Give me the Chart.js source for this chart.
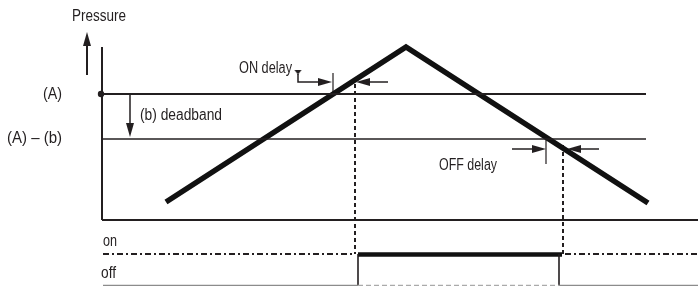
<!DOCTYPE html>
<html><head><meta charset="utf-8">
<script src="https://cdn.jsdelivr.net/npm/chart.js@4"></script>
<style>html,body{margin:0;padding:0;background:#fff;}canvas{display:block;}</style>
</head><body>
<canvas id="c" width="698" height="286"></canvas>
<script>
// ---- diagram values (x = time axis units, y = level units, top-down) ----
const axisTime = [102, 102, 698];
const axisLevel = [47, 220, 220];
const setpointA = 94;            // level (A)
const setpointAminusB = 139;     // level (A) - (b)
const setpointTimes = [102, 646];
const pressureTime = [166, 406, 648];
const pressureLevel = [202, 47, 203];
const onCrossTime = 333;    // curve reaches (A)
const onSwitchTime = 355;   // output switches on
const offCrossTime = 546;   // curve falls to (A)-(b)
const offSwitchTime = 563;  // output switches off
const onTickLevels = [73, 94];
const offTickLevels = [139, 164];
const onArrowLevel = 82;
const offArrowLevel = 149;
const stateOnLevel = 254;
const stateOffLevel = 285.5;
const stateTimes = [103, 358, 559, 698];
const labelTexts = ['Pressure', '(A)', '(A) \u2013 (b)', '(b) deadband', 'ON delay', 'OFF delay', 'on', 'off'];
const labelTime = [72, 62, 62, 140, 239, 439, 103, 101];
const labelLevel = [21, 99, 143, 120, 73, 170, 246, 278];
const labelWidth = [54, 19, 55, 82, 53, 58, 14, 15];
const labelAlign = ['left', 'right', 'right', 'left', 'left', 'left', 'left', 'left'];

const INK = '#231f20';
const GREY = '#8c8c8c';

function pts(xs, ys) { return xs.map((x, i) => ({x, y: ys[i]})); }
function seg(xs, ys, color, width, dash) {
  return {data: pts(xs, ys), showLine: true, borderColor: color, borderWidth: width,
          borderDash: dash || [], pointRadius: 0, fill: false, clip: false, tension: 0};
}
function makeHead(w, h) {
  const c = document.createElement('canvas');
  c.width = w; c.height = h;
  const g = c.getContext('2d');
  g.fillStyle = INK;
  g.beginPath(); g.moveTo(w / 2, 0); g.lineTo(w, h); g.lineTo(0, h); g.closePath(); g.fill();
  return c;
}
const headBig = makeHead(8, 14);
const headSmall = makeHead(8, 5);
function head(x, y, rot, img) {
  return {data: [{x, y}], showLine: false, pointStyle: img || headBig, pointRotation: rot,
          pointRadius: 5, clip: false};
}

const datasets = [
  seg(axisTime.slice(0, 2), axisLevel.slice(0, 2), INK, 2),
  seg(axisTime.slice(1), axisLevel.slice(1), INK, 2),
  seg(setpointTimes, [setpointA, setpointA], INK, 2),
  seg(setpointTimes, [setpointAminusB, setpointAminusB], INK, 1.6),
  seg(pressureTime, pressureLevel, '#111', 5.5),
  seg([onCrossTime, onCrossTime], onTickLevels, INK, 1.2),
  seg([offCrossTime, offCrossTime], offTickLevels, INK, 1.2),
  seg([onSwitchTime, onSwitchTime], [84, stateOnLevel], INK, 2, [4, 3]),
  seg([offSwitchTime, offSwitchTime], [145, stateOnLevel], INK, 2, [4, 3]),
  // ON delay arrows
  seg([298, 298, 322], [74, onArrowLevel, onArrowLevel], INK, 1.5),
  head(298, 72, 180, headSmall),
  head(325, onArrowLevel, 90),
  seg([388, 366], [onArrowLevel, onArrowLevel], INK, 1.5),
  head(363, onArrowLevel, 270),
  // OFF delay arrows
  seg([512, 535], [offArrowLevel, offArrowLevel], INK, 1.5),
  head(539, offArrowLevel, 90),
  seg([599, 577], [offArrowLevel, offArrowLevel], INK, 1.5),
  head(574, offArrowLevel, 270),
  // Pressure arrow & deadband arrow
  seg([87, 87], [75, 40], INK, 2),
  head(87, 39, 0),
  seg([130, 130], [95, 128], INK, 1.5),
  head(130, 130, 180),
  // setpoint dot
  {data: [{x: 101, y: setpointA}], showLine: false, pointStyle: 'circle', pointRadius: 3.2,
   backgroundColor: INK, borderColor: INK, borderWidth: 0, clip: false},
  // output state lines
  seg([stateTimes[0], onSwitchTime], [stateOnLevel, stateOnLevel], INK, 1.8, [6, 3, 2, 3]),
  seg([offSwitchTime + 2, stateTimes[3]], [stateOnLevel, stateOnLevel], INK, 1.8, [6, 3, 2, 3]),
  seg([stateTimes[0], stateTimes[1]], [stateOffLevel, stateOffLevel], GREY, 1.5),
  seg([stateTimes[1], stateTimes[2]], [stateOffLevel, stateOffLevel], '#aaa', 1.5, [5, 3]),
  seg([stateTimes[2], stateTimes[3]], [stateOffLevel, stateOffLevel], GREY, 1.5),
  seg([stateTimes[1], stateTimes[1]], [stateOnLevel, 286], INK, 1.6),
  seg([stateTimes[2], stateTimes[2]], [stateOnLevel, 286], INK, 1.6),
  seg([stateTimes[1], offSwitchTime - 1], [stateOnLevel + 0.5, stateOnLevel + 0.5], '#111', 4.5)
];

const textPlugin = {
  id: 'labels',
  afterDatasetsDraw(chart) {
    const {ctx, scales: {x, y}} = chart;
    ctx.save();
    ctx.fillStyle = INK;
    ctx.font = '16px "Liberation Sans", Arial, sans-serif';
    ctx.textBaseline = 'alphabetic';
    labelTexts.forEach((t, i) => {
      const px = x.getPixelForValue(labelTime[i]);
      const py = y.getPixelForValue(labelLevel[i]);
      const squeeze = labelWidth[i] / ctx.measureText(t).width;
      ctx.save();
      ctx.translate(px, py);
      ctx.scale(squeeze, 1);
      ctx.textAlign = labelAlign[i];
      ctx.fillText(t, 0, 0);
      ctx.restore();
    });
    ctx.restore();
  }
};

new Chart(document.getElementById('c'), {
  type: 'scatter',
  data: {datasets},
  options: {
    responsive: false, animation: false,
    layout: {padding: 0, autoPadding: false},
    plugins: {legend: {display: false}, tooltip: {enabled: false}},
    scales: {
      x: {type: 'linear', min: 0, max: 698, display: false},
      y: {type: 'linear', min: 0, max: 286, reverse: true, display: false}
    }
  },
  plugins: [textPlugin]
});
</script>
</body></html>
